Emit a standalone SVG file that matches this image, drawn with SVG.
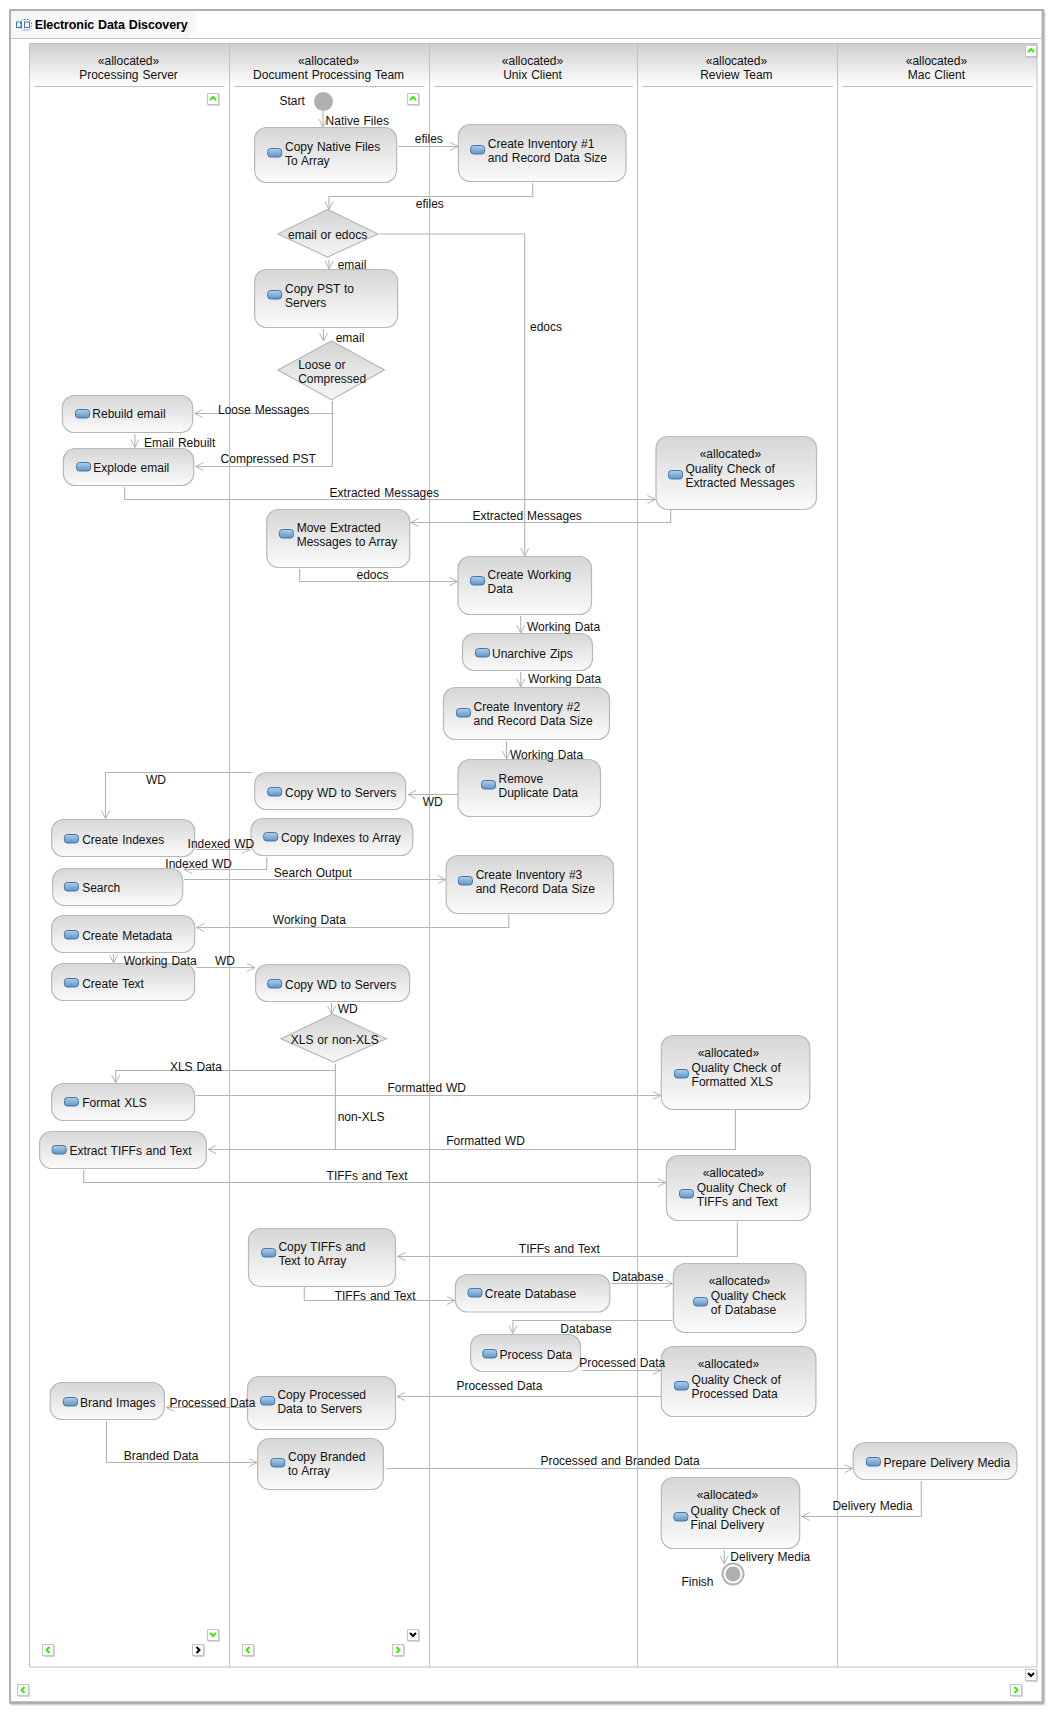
<svg xmlns="http://www.w3.org/2000/svg" width="1058" height="1716" viewBox="0 0 1058 1716">
<style>
text{font-family:"Liberation Sans",Arial,sans-serif;font-size:12px;word-spacing:0.6px;fill:#111}
.c{text-anchor:middle}
.title{font-weight:bold;font-size:12.5px;fill:#000}
.n{fill:url(#ng);stroke:#b8b8b8;stroke-width:1.2}
.d{fill:url(#dg);stroke:#b8b8b8;stroke-width:1.2}
.l{fill:none;stroke:#b4b4b4;stroke-width:1.1}
.a{marker-end:url(#arr)}
.lane{stroke:#c0c0c0;stroke-width:1;fill:none}
.g{fill:none;stroke:#33ee00;stroke-width:2}
.k{fill:none;stroke:#000;stroke-width:2}
</style>
<defs>
<linearGradient id="ng" x1="0" y1="0" x2="0" y2="1"><stop offset="0" stop-color="#d6d6d6"/><stop offset="1" stop-color="#fbfbfb"/></linearGradient>
<linearGradient id="dg" x1="0" y1="0" x2="0" y2="1"><stop offset="0" stop-color="#d4d4d4"/><stop offset="1" stop-color="#f6f6f6"/></linearGradient>
<linearGradient id="hg" x1="0" y1="0" x2="0" y2="1"><stop offset="0" stop-color="#cecece"/><stop offset="1" stop-color="#ffffff"/></linearGradient>
<linearGradient id="ig" x1="0" y1="0" x2="0" y2="1"><stop offset="0" stop-color="#b4cfe6"/><stop offset="1" stop-color="#5f93c4"/></linearGradient>
<marker id="arr" markerUnits="userSpaceOnUse" markerWidth="12" markerHeight="12" refX="9" refY="5" orient="auto" overflow="visible"><path d="M1,1 L9,5 L1,9" fill="none" stroke="#b4b4b4" stroke-width="1"/></marker>
<rect id="ic" width="14" height="8.5" rx="3" fill="url(#ig)" stroke="#3b79b2" stroke-width="1"/>
<g id="box"><rect x="1" y="1" width="11" height="11" fill="#a8a8a8"/><rect x="0" y="0" width="11" height="11" fill="#fff" stroke="#c4c4c4" stroke-width="1"/></g>
<path id="up" d="M2.5,6.5 L5.5,3.5 L8.5,6.5"/>
<path id="dn" d="M2.5,3.5 L5.5,6.5 L8.5,3.5"/>
<path id="lf" d="M7,2.5 L4,5.5 L7,8.5"/>
<path id="rt" d="M4,2.5 L7,5.5 L4,8.5"/>
</defs>
<rect width="1058" height="1716" fill="#fff"/>
<g id="frame">
<path d="M1045,12 V1705 H12" fill="none" stroke="#ececec" stroke-width="2"/>
<rect x="10" y="10" width="1033" height="1692.5" fill="#fff" stroke="#b0b0b0" stroke-width="2"/>
<path d="M1043,10 V1703.5 M10,1703 H1043" stroke="#b0b0b0" stroke-width="3" fill="none"/>
<path d="M11,11 H195.5 V31 L188,38 H11 Z" fill="#f6f6f6"/>
<path d="M11,38.5 H1042" stroke="#c4c4c4" stroke-width="1" fill="none"/>
<g id="title-icon" fill="none" stroke="#3b79b2" stroke-width="1"><rect x="16.5" y="22" width="5" height="5.5"/><rect x="24.5" y="22" width="5" height="5.5"/><rect x="20.5" y="19.5" width="11" height="10.5" rx="3.5" stroke-dasharray="1.5 1.5"/></g>
<text class="title" x="34.7" y="29" textLength="153">Electronic Data Discovery</text>
</g>
<g id="swimlanes">
<rect x="29.5" y="44" width="1007.5" height="42" fill="url(#hg)"/>
<rect class="lane" x="29.5" y="43.5" width="1007.5" height="1623.5"/>
<path class="lane" d="M229.5,44 V1667 M429.5,44 V1667 M637.5,44 V1667 M837.5,44 V1667"/>
<path class="lane" d="M34,86.5 H224.6 M234,86.5 H424.6 M434,86.5 H633 M642,86.5 H833 M842,86.5 H1033"/>
<text class="c" x="128.5" y="65">«allocated»</text><text class="c" x="128.5" y="79">Processing Server</text>
<text class="c" x="328.6" y="65">«allocated»</text><text class="c" x="328.6" y="79">Document Processing Team</text>
<text class="c" x="532.5" y="65">«allocated»</text><text class="c" x="532.5" y="79">Unix Client</text>
<text class="c" x="736.4" y="65">«allocated»</text><text class="c" x="736.4" y="79">Review Team</text>
<text class="c" x="936.4" y="65">«allocated»</text><text class="c" x="936.4" y="79">Mac Client</text>
</g>
<g id="buttons">
<g transform="translate(207.5,93.5)"><use href="#box"/><use href="#up" class="g"/></g>
<g transform="translate(407.5,93.5)"><use href="#box"/><use href="#up" class="g"/></g>
<g transform="translate(1025.5,45.5)"><use href="#box"/><use href="#up" class="g"/></g>
<g transform="translate(207.5,1629.5)"><use href="#box"/><use href="#dn" class="g"/></g>
<g transform="translate(42.5,1644.5)"><use href="#box"/><use href="#lf" class="g"/></g>
<g transform="translate(192.5,1644.5)"><use href="#box"/><use href="#rt" class="k"/></g>
<g transform="translate(407.5,1629.5)"><use href="#box"/><use href="#dn" class="k"/></g>
<g transform="translate(242.5,1644.5)"><use href="#box"/><use href="#lf" class="g"/></g>
<g transform="translate(392.5,1644.5)"><use href="#box"/><use href="#rt" class="g"/></g>
<g transform="translate(17.5,1684.5)"><use href="#box"/><use href="#lf" class="g"/></g>
<g transform="translate(1025.5,1669.5)"><use href="#box"/><use href="#dn" class="k"/></g>
<g transform="translate(1010.5,1684.5)"><use href="#box"/><use href="#rt" class="g"/></g>
</g>
<g id="connectors">
<path class="l a" d="M323,111 V127"/>
<path class="l a" d="M398.6,146.5 H458"/>
<path class="l a" d="M532.7,183 V196.5 H329 V209.5"/>
<path class="l a" d="M329,260 V269"/>
<path class="l a" d="M323.5,329 V341"/>
<path class="l a" d="M332.4,401 V413.5 H194.7"/>
<path class="l a" d="M332.4,401 V466.5 H195.7"/>
<path class="l a" d="M134.9,434 V447.5"/>
<path class="l a" d="M124.7,487 V499.5 H655.5"/>
<path class="l a" d="M670.7,510 V522.5 H410.5"/>
<path class="l a" d="M299.7,569 V581.5 H457.5"/>
<path class="l a" d="M520.7,616 V633"/>
<path class="l a" d="M520.7,672 V687"/>
<path class="l a" d="M506.5,741 V759"/>
<path class="l a" d="M458,794.5 H408"/>
<path class="l a" d="M252.5,772.5 H105.5 V818.5"/>
<path class="l a" d="M196.2,849.5 H250"/>
<path class="l a" d="M266.7,857 V869.5 H184"/>
<path class="l a" d="M184,879.5 H445.7"/>
<path class="l a" d="M508.8,914.5 V927.5 H196.2"/>
<path class="l a" d="M113.6,954 V963"/>
<path class="l a" d="M196.2,967.5 H255"/>
<path class="l a" d="M331.6,1003 V1014"/>
<path class="l a" d="M335.4,1064 V1070.5 H115.6 V1083"/>
<path class="l" d="M335.4,1064 V1149.5"/>
<path class="l a" d="M196.2,1095.5 H660.8"/>
<path class="l a" d="M735.4,1110 V1149.5 H208"/>
<path class="l a" d="M83.7,1170 V1182.5 H665.9"/>
<path class="l a" d="M737.4,1222 V1256.5 H397.6"/>
<path class="l a" d="M304.3,1287 V1300.5 H454.9"/>
<path class="l a" d="M611.3,1283.5 H672.9"/>
<path class="l a" d="M672.4,1320.5 H512.9 V1333.5"/>
<path class="l a" d="M582,1370.5 H660.8"/>
<path class="l a" d="M661,1396.5 H397"/>
<path class="l a" d="M246.4,1407.5 H166.3"/>
<path class="l a" d="M106.5,1421 V1462.5 H257.1"/>
<path class="l a" d="M386.4,1468.5 H852.7"/>
<path class="l a" d="M921.3,1481 V1516.5 H801.7"/>
<path class="l a" d="M724.2,1550 V1564"/>
</g>
<g id="start"><circle cx="323.5" cy="101.5" r="9.5" fill="#b0b0b0"/><text x="279.4" y="105">Start</text></g>
<g id="finish"><circle cx="733" cy="1574" r="10.5" fill="#fff" stroke="#b4b4b4" stroke-width="2"/><circle cx="733" cy="1574" r="7.5" fill="#b0b0b0"/><text x="681.5" y="1586">Finish</text></g>
<g id="dec-email"><polygon class="d" points="277.9,234 327.6,209.5 378,234 327.6,257"/><text class="c" x="327.6" y="239">email or edocs</text></g>
<g id="dec-loose"><polygon class="d" points="277.9,370 331.6,341 384.4,370 331.6,399.7"/><text x="298.2" y="369">Loose or</text><text x="298.2" y="383">Compressed</text></g>
<g id="dec-xls"><polygon class="d" points="280.9,1038.7 332.7,1014 386.4,1038.7 333.7,1062"/><text class="c" x="334.7" y="1044">XLS or non-XLS</text></g>
<g id="n1"><rect class="n" x="254.6" y="127.5" width="142" height="55" rx="12"/><use href="#ic" x="267.7" y="148.5"/><text x="285" y="151">Copy Native Files</text><text x="285" y="165">To Array</text></g>
<g id="n2"><rect class="n" x="458.4" y="124.5" width="167.6" height="57" rx="12"/><use href="#ic" x="470.6" y="145.5"/><text x="487.8" y="148">Create Inventory #1</text><text x="487.8" y="162">and Record Data Size</text></g>
<g id="n3"><rect class="n" x="254.6" y="269.5" width="143" height="58" rx="12"/><use href="#ic" x="267.7" y="290.5"/><text x="285" y="293">Copy PST to</text><text x="285" y="307">Servers</text></g>
<g id="n4"><rect class="n" x="62.4" y="395.5" width="130.3" height="37" rx="12"/><use href="#ic" x="75.5" y="409.5"/><text x="92.3" y="418">Rebuild email</text></g>
<g id="n5"><rect class="n" x="63.4" y="448.5" width="130.3" height="37" rx="12"/><use href="#ic" x="76.6" y="462.5"/><text x="93.3" y="472">Explode email</text></g>
<g id="n6"><rect class="n" x="656" y="436.5" width="160.5" height="73" rx="12"/><use href="#ic" x="668.5" y="470.5"/><text x="699.7" y="458">«allocated»</text><text x="685.5" y="473">Quality Check of</text><text x="685.5" y="487">Extracted Messages</text></g>
<g id="n7"><rect class="n" x="266.7" y="509.5" width="143" height="58" rx="12"/><use href="#ic" x="279.4" y="529.5"/><text x="296.7" y="532">Move Extracted</text><text x="296.7" y="546">Messages to Array</text></g>
<g id="n8"><rect class="n" x="458" y="556.5" width="133.5" height="58" rx="12"/><use href="#ic" x="470.5" y="576.5"/><text x="487.5" y="579">Create Working</text><text x="487.5" y="593">Data</text></g>
<g id="n9"><rect class="n" x="462.5" y="633.5" width="130" height="37" rx="12"/><use href="#ic" x="475.5" y="648.5"/><text x="492" y="658">Unarchive Zips</text></g>
<g id="n10"><rect class="n" x="443.5" y="687.5" width="166" height="52" rx="12"/><use href="#ic" x="456.5" y="708.5"/><text x="473.5" y="711">Create Inventory #2</text><text x="473.5" y="725">and Record Data Size</text></g>
<g id="n11"><rect class="n" x="458" y="759.5" width="142.5" height="57" rx="12"/><use href="#ic" x="481.5" y="780.5"/><text x="498.5" y="783">Remove</text><text x="498.5" y="797">Duplicate Data</text></g>
<g id="n12"><rect class="n" x="254.6" y="772.5" width="151" height="37" rx="12"/><use href="#ic" x="267.7" y="787.5"/><text x="285" y="797">Copy WD to Servers</text></g>
<g id="n13"><rect class="n" x="51.7" y="819.5" width="143" height="37" rx="12"/><use href="#ic" x="64.4" y="834.5"/><text x="82.2" y="844">Create Indexes</text></g>
<g id="n14"><rect class="n" x="251" y="818.5" width="161.8" height="37" rx="12"/><use href="#ic" x="263.7" y="832.5"/><text x="281" y="842">Copy Indexes to Array</text></g>
<g id="n15"><rect class="n" x="52.7" y="868.5" width="130" height="37" rx="12"/><use href="#ic" x="64.4" y="882.5"/><text x="82.2" y="892">Search</text></g>
<g id="n16"><rect class="n" x="446.2" y="855.5" width="167.3" height="58" rx="12"/><use href="#ic" x="458.4" y="876.5"/><text x="475.7" y="879">Create Inventory #3</text><text x="475.7" y="893">and Record Data Size</text></g>
<g id="n17"><rect class="n" x="51.7" y="915.5" width="143" height="37" rx="12"/><use href="#ic" x="64.4" y="930.5"/><text x="82.2" y="940">Create Metadata</text></g>
<g id="n18"><rect class="n" x="51.7" y="963.5" width="143" height="37" rx="12"/><use href="#ic" x="64.4" y="978.5"/><text x="82.2" y="988">Create Text</text></g>
<g id="n19"><rect class="n" x="255.6" y="964.5" width="154" height="37" rx="12"/><use href="#ic" x="267.7" y="979.5"/><text x="285" y="989">Copy WD to Servers</text></g>
<g id="n20"><rect class="n" x="51.7" y="1083.5" width="143" height="37" rx="12"/><use href="#ic" x="64.4" y="1097.5"/><text x="82.2" y="1107">Format XLS</text></g>
<g id="n21"><rect class="n" x="39.6" y="1131.5" width="166.8" height="37" rx="12"/><use href="#ic" x="52.2" y="1145.5"/><text x="69.5" y="1155">Extract TIFFs and Text</text></g>
<g id="n22"><rect class="n" x="661.3" y="1035.5" width="148.5" height="74" rx="12"/><use href="#ic" x="674.4" y="1069.5"/><text x="697.7" y="1057">«allocated»</text><text x="691.6" y="1072">Quality Check of</text><text x="691.6" y="1086">Formatted XLS</text></g>
<g id="n23"><rect class="n" x="666.4" y="1155.5" width="143.9" height="65" rx="12"/><use href="#ic" x="679.5" y="1189.5"/><text x="702.7" y="1177">«allocated»</text><text x="696.7" y="1192">Quality Check of</text><text x="696.7" y="1206">TIFFs and Text</text></g>
<g id="n24"><rect class="n" x="248.5" y="1228.5" width="147" height="58" rx="12"/><use href="#ic" x="261.7" y="1248.5"/><text x="278.4" y="1251">Copy TIFFs and</text><text x="278.4" y="1265">Text to Array</text></g>
<g id="n25"><rect class="n" x="455.4" y="1274.5" width="154.4" height="37.5" rx="12"/><use href="#ic" x="468" y="1288.5"/><text x="484.8" y="1298">Create Database</text></g>
<g id="n26"><rect class="n" x="673.4" y="1263.5" width="132.4" height="69" rx="12"/><use href="#ic" x="693.6" y="1297.5"/><text x="708.7" y="1285">«allocated»</text><text x="710.8" y="1300">Quality Check</text><text x="710.8" y="1314">of Database</text></g>
<g id="n27"><rect class="n" x="470.6" y="1334.5" width="109.9" height="37" rx="12"/><use href="#ic" x="482.8" y="1349.5"/><text x="499.5" y="1359">Process Data</text></g>
<g id="n28"><rect class="n" x="661.3" y="1346.5" width="154.6" height="70" rx="12"/><use href="#ic" x="674.4" y="1381.5"/><text x="697.7" y="1368">«allocated»</text><text x="691.6" y="1384">Quality Check of</text><text x="691.6" y="1398">Processed Data</text></g>
<g id="n29"><rect class="n" x="247.5" y="1376.5" width="148" height="53" rx="12"/><use href="#ic" x="260.6" y="1396.5"/><text x="277.4" y="1399">Copy Processed</text><text x="277.4" y="1413">Data to Servers</text></g>
<g id="n30"><rect class="n" x="50.2" y="1382.5" width="114.1" height="37" rx="12"/><use href="#ic" x="63.4" y="1397.5"/><text x="80.1" y="1407">Brand Images</text></g>
<g id="n31"><rect class="n" x="257.6" y="1438.5" width="125.8" height="51" rx="12"/><use href="#ic" x="270.8" y="1458.5"/><text x="288" y="1461">Copy Branded</text><text x="288" y="1475">to Array</text></g>
<g id="n32"><rect class="n" x="853.2" y="1442.5" width="163.7" height="37" rx="12"/><use href="#ic" x="866.4" y="1457.5"/><text x="883.5" y="1467">Prepare Delivery Media</text></g>
<g id="n33"><rect class="n" x="661.3" y="1477.5" width="138.4" height="71" rx="12"/><use href="#ic" x="673.9" y="1512.5"/><text x="696.7" y="1499">«allocated»</text><text x="690.6" y="1515">Quality Check of</text><text x="690.6" y="1529">Final Delivery</text></g>
<g id="connector-labels">
<text x="325.6" y="125">Native Files</text>
<text x="414.8" y="143">efiles</text>
<text x="415.8" y="208">efiles</text>
<text x="337.7" y="269">email</text>
<text x="335.7" y="342">email</text>
<text x="530" y="331">edocs</text>
<text x="218" y="414">Loose Messages</text>
<text x="220.6" y="463">Compressed PST</text>
<text x="144" y="447">Email Rebuilt</text>
<text x="329.6" y="497">Extracted Messages</text>
<text x="472.5" y="520">Extracted Messages</text>
<text x="356.5" y="579">edocs</text>
<text x="527" y="631">Working Data</text>
<text x="528" y="683">Working Data</text>
<text x="510" y="759">Working Data</text>
<text x="422.7" y="806">WD</text>
<text x="146" y="784">WD</text>
<text x="187.6" y="847.5">Indexed WD</text>
<text x="165.3" y="868">Indexed WD</text>
<text x="273.8" y="877">Search Output</text>
<text x="272.8" y="924">Working Data</text>
<text x="123.7" y="965">Working Data</text>
<text x="215" y="965">WD</text>
<text x="337.7" y="1013">WD</text>
<text x="169.9" y="1071">XLS Data</text>
<text x="337.7" y="1121">non-XLS</text>
<text x="387.4" y="1092">Formatted WD</text>
<text x="446.2" y="1145">Formatted WD</text>
<text x="326.6" y="1180">TIFFs and Text</text>
<text x="518.8" y="1253">TIFFs and Text</text>
<text x="334.7" y="1300">TIFFs and Text</text>
<text x="612.2" y="1281">Database</text>
<text x="560.3" y="1333">Database</text>
<text x="579.2" y="1367">Processed Data</text>
<text x="456.4" y="1390">Processed Data</text>
<text x="169.4" y="1407">Processed Data</text>
<text x="123.7" y="1460">Branded Data</text>
<text x="540.4" y="1465">Processed and Branded Data</text>
<text x="832.4" y="1510">Delivery Media</text>
<text x="730.3" y="1561">Delivery Media</text>
</g>
<g id="connectors-top"><path class="l a" d="M379.3,234 H524.7 V556"/></g>
</svg>
